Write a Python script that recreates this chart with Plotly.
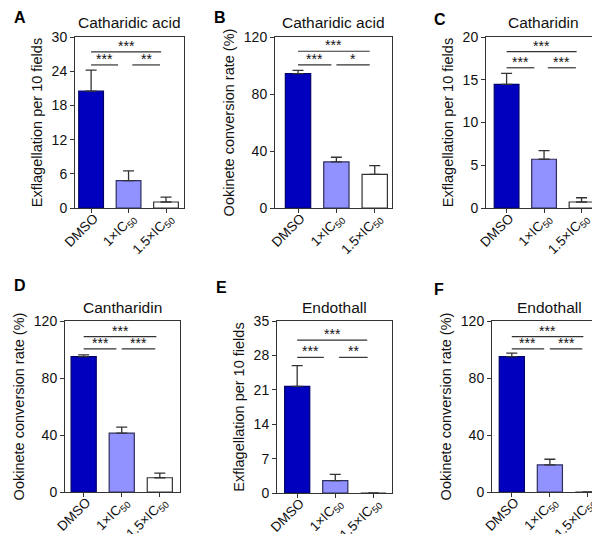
import plotly.graph_objects as go

categories = ["DMSO", "1×IC<sub>50</sub>", "1.5×IC<sub>50</sub>"]

titles = ["Catharidic acid", "Catharidic acid", "Catharidin", "Cantharidin", "Endothall", "Endothall"]
panel_letters = ["A", "B", "C", "D", "E", "F"]
y_titles = ["Exflagellation per 10 fields", "Ookinete conversion rate (%)", "Exflagellation per 10 fields",
            "Ookinete conversion rate (%)", "Exflagellation per 10 fields", "Ookinete conversion rate (%)"]

means_A = [20.5, 4.8, 1.05]
errs_A = [3.7, 1.7, 0.85]
means_B = [94.3, 32.3, 23.6]
errs_B = [2.3, 3.3, 6.1]
means_C = [14.45, 5.7, 0.7]
errs_C = [1.3, 1.0, 0.5]
means_D = [95.0, 41.3, 10.0]
errs_D = [1.2, 4.2, 3.3]
means_E = [21.7, 2.5, 0]
errs_E = [4.2, 1.3, None]
means_F = [95.0, 19.0, 0]
errs_F = [2.5, 4.0, None]

y_max = [30, 120, 20, 120, 35, 120]
y_dtick = [6, 40, 5, 40, 7, 40]

# significance brackets: (x0, x1, y, label)
sig_A = [(0, 1.87, 27.4, "***"), (0, 0.72, 25.1, "***"), (1.1, 1.84, 25.1, "**")]
sig_B = [(0, 1.87, 110, "***"), (0, 0.87, 100.4, "***"), (1.0, 1.87, 100.4, "*")]
sig_C = [(0, 1.87, 18.3, "***"), (0, 0.74, 16.4, "***"), (1.1, 1.85, 16.4, "***")]
sig_D = [(0, 1.91, 109, "***"), (0, 0.86, 100.4, "***"), (1.0, 1.88, 100.4, "***")]
sig_E = [(0, 1.84, 31.1, "***"), (0, 0.70, 27.6, "***"), (1.1, 1.85, 27.6, "**")]
sig_F = [(0, 1.88, 109, "***"), (0, 0.85, 100.4, "***"), (1.0, 1.85, 100.4, "***")]

means = [means_A, means_B, means_C, means_D, means_E, means_F]
errs = [errs_A, errs_B, errs_C, errs_D, errs_E, errs_F]
sigs = [sig_A, sig_B, sig_C, sig_D, sig_E, sig_F]

W, H = 600, 534
# plot boxes in pixels: (left, right, top, bottom)
boxes = [(67, 176, 29, 200), (267, 384, 29, 200), (478, 593, 29, 200),
         (57, 172, 313, 484), (269, 384, 313, 485), (484, 599, 313, 484)]
x_ranges = [(-0.43, 2.48), (-0.6, 2.45), (-0.55, 2.52), (-0.49, 2.53), (-0.53, 2.49), (-0.52, 2.5)]
letter_pos = [(4, 9), (204, 9), (424, 11), (4, 277), (206, 279), (424, 281)]

fills = ["#0000BE", "#9191FF", "#FFFFFF"]
outlines = ["#00006A", "#2E2E5E", "#333333"]
axis_color = "#333333"
font_family = "Arial, Liberation Sans, sans-serif"

fig = go.Figure()
layout = dict(width=W, height=H, margin=dict(l=0, r=0, t=0, b=0, autoexpand=False),
              paper_bgcolor="white", plot_bgcolor="white", showlegend=False,
              font=dict(family=font_family, color="#111111"))
annotations = []
shapes = []

for i in range(6):
    n = "" if i == 0 else str(i + 1)
    xa, ya = "x" + n, "y" + n
    l, r, t, b = boxes[i]
    xs = list(range(3))
    fig.add_trace(go.Bar(
        x=xs, y=means[i], xaxis=xa, yaxis=ya, width=0.66,
        marker=dict(color=fills, line=dict(color=outlines, width=1.2)),
        error_y=dict(type="data", symmetric=False,
                     array=errs[i], arrayminus=[0, 0, 0],
                     color=axis_color, thickness=1.3, width=5.5),
        hoverinfo="skip"))
    layout["xaxis" + n] = dict(
        domain=[l / W, r / W], anchor=ya, range=list(x_ranges[i]), automargin=False,
        tickmode="array", tickvals=xs, ticktext=categories, tickangle=-45,
        ticks="outside", ticklen=4, tickwidth=1, tickcolor=axis_color,
        ticklabelstandoff=-8, ticklabelshift=3,
        showline=True, linecolor=axis_color, linewidth=1, mirror=True,
        showgrid=False, zeroline=False, tickfont=dict(size=13.5, color="#111111"))
    layout["yaxis" + n] = dict(
        domain=[1 - b / H, 1 - t / H], anchor=xa, range=[0, y_max[i]], automargin=False,
        tick0=0, dtick=y_dtick[i], ticks="outside", ticklen=4, tickwidth=1,
        tickcolor=axis_color, showline=True, linecolor=axis_color, linewidth=1,
        mirror=True, showgrid=False, zeroline=False,
        tickfont=dict(size=14, color="#111111"),
        title=dict(text=y_titles[i], font=dict(size=14.5, color="#111111"), standoff=5))
    # title
    annotations.append(dict(text=titles[i], x=(l + r) / 2 / W, y=1 - (t - 14) / H,
                            xref="paper", yref="paper", showarrow=False,
                            font=dict(size=15.5, color="#111111"), xanchor="center", yanchor="middle"))
    # panel letter
    lx, ly = letter_pos[i]
    annotations.append(dict(text="<b>" + panel_letters[i] + "</b>", x=lx / W, y=1 - ly / H,
                            xref="paper", yref="paper", showarrow=False,
                            font=dict(size=16, color="#000000"), xanchor="left", yanchor="middle"))
    for (x0, x1, yv, lab) in sigs[i]:
        shapes.append(dict(type="line", xref=xa, yref=ya, x0=x0, x1=x1, y0=yv, y1=yv,
                           line=dict(color=axis_color, width=1.2)))
        annotations.append(dict(text=lab, x=(x0 + x1) / 2, y=yv, xref=xa, yref=ya,
                                showarrow=False, font=dict(size=14, color="#111111"),
                                xanchor="center", yanchor="middle", yshift=6))

layout["annotations"] = annotations
layout["shapes"] = shapes
fig.update_layout(**layout)
fig.write_html("out.html")
